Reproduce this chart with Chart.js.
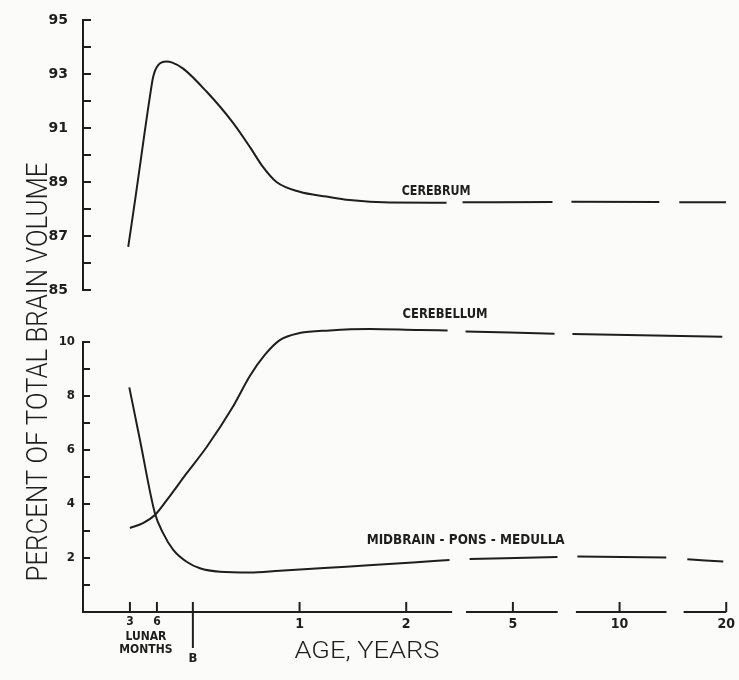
<!DOCTYPE html>
<html>
<head>
<meta charset="utf-8">
<script src="https://cdn.jsdelivr.net/npm/chart.js@4.4.1/dist/chart.umd.min.js"></script>
<style>
  html, body { margin: 0; padding: 0; background: #fbfbf9; }
  canvas { display: block; }
</style>
</head>
<body>
<canvas id="c" width="739" height="680"></canvas>
<script>
// ---------------- DATA ----------------
// x-axis position: 0 = birth (B); each further unit = next labelled age (1, 2, 5, 10, 20 years).
// Before birth one lunar month = 0.0843 units (3 lunar months at -0.59, 6 at -0.337).
const xTickPos    = [-0.59, -0.44, -0.337, 0, 1, 2, 3, 4, 5];
const xTickLabels = ['3', ['', 'LUNAR', 'MONTHS'], '6', ['', '', 'B'], '1', '2', '5', '10', '20'];

const yTopTicks = [85, 86, 87, 88, 89, 90, 91, 92, 93, 94, 95];
const yBotTicks = [0, 1, 2, 3, 4, 5, 6, 7, 8, 9, 10];

// Cerebrum (upper panel, percent)
const cerebrumX = [-0.606, -0.537, -0.403, -0.372, -0.325, -0.246, -0.199, -0.091, 0.128, 0.375, 0.534, 0.655, 0.784, 1.0, 1.252, 1.47, 1.845, 2.378, 2.45, 2.528, 3.371, 3.46, 3.549, 4.373, 4.47, 4.56, 5.0];
const cerebrumY = [86.6, 88.46, 92.16, 92.9, 93.33, 93.46, 93.43, 93.2, 92.35, 91.2, 90.3, 89.57, 89.0, 88.64, 88.46, 88.33, 88.24, 88.23, null, 88.25, 88.26, null, 88.27, 88.26, null, 88.25, 88.25];

// Cerebellum (lower panel, percent)
const cerebellumX = [-0.59, -0.468, -0.356, -0.243, -0.056, 0.131, 0.375, 0.534, 0.674, 0.815, 1.0, 1.283, 1.657, 2.125, 2.388, 2.47, 2.556, 3.39, 3.47, 3.558, 4.963];
const cerebellumY = [3.11, 3.29, 3.59, 4.15, 5.15, 6.12, 7.6, 8.74, 9.52, 10.07, 10.33, 10.43, 10.48, 10.44, 10.43, null, 10.39, 10.31, null, 10.30, 10.19];

// Midbrain - pons - medulla (lower panel, percent)
const midbrainX = [-0.596, -0.496, -0.356, -0.278, -0.184, -0.059, 0.066, 0.253, 0.534, 0.815, 1.439, 2.063, 2.406, 2.5, 2.594, 3.418, 3.51, 3.605, 4.438, 4.54, 4.635, 4.972];
const midbrainY = [8.32, 6.37, 3.66, 2.91, 2.30, 1.86, 1.62, 1.49, 1.46, 1.53, 1.68, 1.83, 1.93, null, 1.96, 2.04, null, 2.06, 2.02, null, 1.95, 1.87];

const seriesNames = ['CEREBRUM', 'CEREBELLUM', 'MIDBRAIN - PONS - MEDULLA'];
const yTitle = 'PERCENT OF TOTAL BRAIN VOLUME';
const xTitle = 'AGE, YEARS';

// ---------------- LAYOUT / STYLE ----------------
const INK = '#1e1e1e';
const TICK_FONT = "'DejaVu Sans Condensed', 'Liberation Sans Narrow', 'DejaVu Sans', sans-serif";
const TOP_TICK_FONT = "'DejaVu Sans', 'Liberation Sans', sans-serif";
const TITLE_FONT = "Roboto, 'DejaVu Sans Condensed', 'Liberation Sans Narrow', sans-serif";
const X_MIN = -1.03, X_MAX = 5;
const HALF_GAP = 26 / 27;             // half of the blank band between the panels, in value units
const xAxisSegments = [[X_MIN, 2.43], [2.57, 3.42], [3.6, 4.44], [4.61, X_MAX]];
const labelPlaces = [
  { axis: 'yTop', x: 1.957, y: 88.67, w: 69 },
  { axis: 'yBot', x: 1.966, y: 11.04, w: 85 },
  { axis: 'yBot', x: 1.629, y: 2.67, w: 198 }
];

function pts(xs, ys) { return xs.map((x, i) => ({ x: x, y: ys[i] })); }

function xTickFont(c) {
  const v = c.tick ? c.tick.value : 1;
  if (v === -0.44) return { family: TICK_FONT, size: 12, weight: 'bold', lineHeight: '13.7px' };
  if (v < -0.3) return { family: TICK_FONT, size: 12, weight: 'bold', lineHeight: '11px' };
  if (v === 0) return { family: TICK_FONT, size: 13, weight: 'bold', lineHeight: '17.2px' };
  return { family: TICK_FONT, size: 14, weight: 'bold', lineHeight: '17px' };
}

function fitText(ctx, text, cx, cy, width, font, rot) {
  ctx.save();
  ctx.font = font;
  ctx.textAlign = 'center';
  ctx.textBaseline = 'middle';
  ctx.translate(cx, cy);
  if (rot) ctx.rotate(rot);
  const w = ctx.measureText(text).width;
  ctx.scale(width / w, 1);
  ctx.fillText(text, 0, 0);
  ctx.restore();
}

function fixVertical(width) {
  return s => { s.width = width; s.paddingTop = 0; s.paddingBottom = 0; };
}

const paperAxes = {
  id: 'paperAxes',
  beforeDraw(chart) { chart.ctx.letterSpacing = '0px'; },
  beforeDatasetsDraw(chart) {
    const ctx = chart.ctx, a = chart.chartArea;
    const x = chart.scales.x, yTop = chart.scales.yTop, yBot = chart.scales.yBot;
    const L = a.left;
    const seg = (x1, y1, x2, y2) => { ctx.beginPath(); ctx.moveTo(x1, y1); ctx.lineTo(x2, y2); ctx.stroke(); };
    ctx.save();
    ctx.strokeStyle = INK;
    ctx.lineWidth = 2;
    // upper panel axis
    seg(L, yTop.getPixelForValue(95) - 1, L, yTop.getPixelForValue(85) + 1);
    yTopTicks.forEach(v => { const p = yTop.getPixelForValue(v); seg(L, p, L + 8, p); });
    // lower panel axis
    const y0 = yBot.getPixelForValue(0);
    seg(L, yBot.getPixelForValue(10) - 1, L, y0);
    yBotTicks.forEach(v => { if (v > 0) { const p = yBot.getPixelForValue(v); seg(L, p, L + 7, p); } });
    // broken x axis
    xAxisSegments.forEach(s => seg(x.getPixelForValue(s[0]) - 1, y0, x.getPixelForValue(s[1]), y0));
    xTickPos.forEach(v => {
      if (v === -0.44) return;
      const p = x.getPixelForValue(v);
      seg(p, y0 - 10, p, v === 0 ? y0 + 36 : y0);
    });
    ctx.restore();
  },
  afterDatasetsDraw(chart) { chart.ctx.letterSpacing = '4px'; },
  afterDraw(chart) {
    const ctx = chart.ctx;
    ctx.letterSpacing = '0px';
    const x = chart.scales.x;
    ctx.save();
    ctx.fillStyle = INK;
    // axis titles
    fitText(ctx, yTitle, 40, 372, 419, '300 29px ' + TITLE_FONT, -Math.PI / 2);
    fitText(ctx, xTitle, 367, 652, 145, '300 24px ' + TITLE_FONT, 0);
    // curve labels
    labelPlaces.forEach((lp, i) => {
      const px = x.getPixelForValue(lp.x);
      const py = chart.scales[lp.axis].getPixelForValue(lp.y);
      fitText(ctx, seriesNames[i], px + lp.w / 2, py, lp.w, 'bold 14px ' + TICK_FONT, 0);
    });
    ctx.restore();
  }
};

const lineStyle = {
  borderColor: INK,
  borderWidth: 2,
  pointRadius: 0,
  pointHoverRadius: 0,
  cubicInterpolationMode: 'monotone',
  spanGaps: false,
  fill: false
};

new Chart(document.getElementById('c'), {
  type: 'line',
  data: {
    datasets: [
      Object.assign({ label: seriesNames[0], data: pts(cerebrumX, cerebrumY), yAxisID: 'yTop' }, lineStyle),
      Object.assign({ label: seriesNames[1], data: pts(cerebellumX, cerebellumY), yAxisID: 'yBot' }, lineStyle),
      Object.assign({ label: seriesNames[2], data: pts(midbrainX, midbrainY), yAxisID: 'yBot' }, lineStyle)
    ]
  },
  options: {
    responsive: false,
    animation: false,
    events: [],
    layout: { padding: { top: 20, right: 12, bottom: 0, left: 0 } },
    plugins: { legend: { display: false }, tooltip: { enabled: false }, title: { display: false } },
    scales: {
      x: {
        type: 'linear',
        min: X_MIN, max: X_MAX,
        grid: { display: false, drawTicks: false, tickLength: 0 },
        border: { display: false },
        afterBuildTicks: s => { s.ticks = xTickPos.map(v => ({ value: v })); },
        afterFit: s => { s.height = 68; },
        ticks: {
          autoSkip: false, maxRotation: 0, minRotation: 0, padding: 4, color: INK,
          font: xTickFont,
          callback: (v, i) => xTickLabels[i]
        }
      },
      yTop: {
        type: 'linear', position: 'left', weight: 1, z: 1,
        stack: 'panels', stackWeight: 1,
        min: 85 - HALF_GAP, max: 95,
        grid: { display: false, drawTicks: false, tickLength: 0 },
        border: { display: false },
        afterBuildTicks: s => { s.ticks = yTopTicks.map(v => ({ value: v })); },
        afterFit: fixVertical(83),
        ticks: {
          padding: 15, color: INK,
          font: { family: TOP_TICK_FONT, size: 14, weight: 'bold' },
          callback: v => (v % 2 === 1) ? String(v) : ''
        }
      },
      yBot: {
        type: 'linear', position: 'left', weight: 0,
        stack: 'panels', stackWeight: 1,
        min: 0, max: 10 + HALF_GAP,
        grid: { display: false, drawTicks: false, tickLength: 0 },
        border: { display: false },
        afterBuildTicks: s => { s.ticks = yBotTicks.map(v => ({ value: v })); },
        afterFit: fixVertical(83),
        ticks: {
          padding: 8, color: INK,
          font: { family: TICK_FONT, size: 13, weight: 'bold' },
          callback: v => (v > 0 && v % 2 === 0) ? String(v) : ''
        }
      }
    }
  },
  plugins: [paperAxes]
});
</script>
</body>
</html>
